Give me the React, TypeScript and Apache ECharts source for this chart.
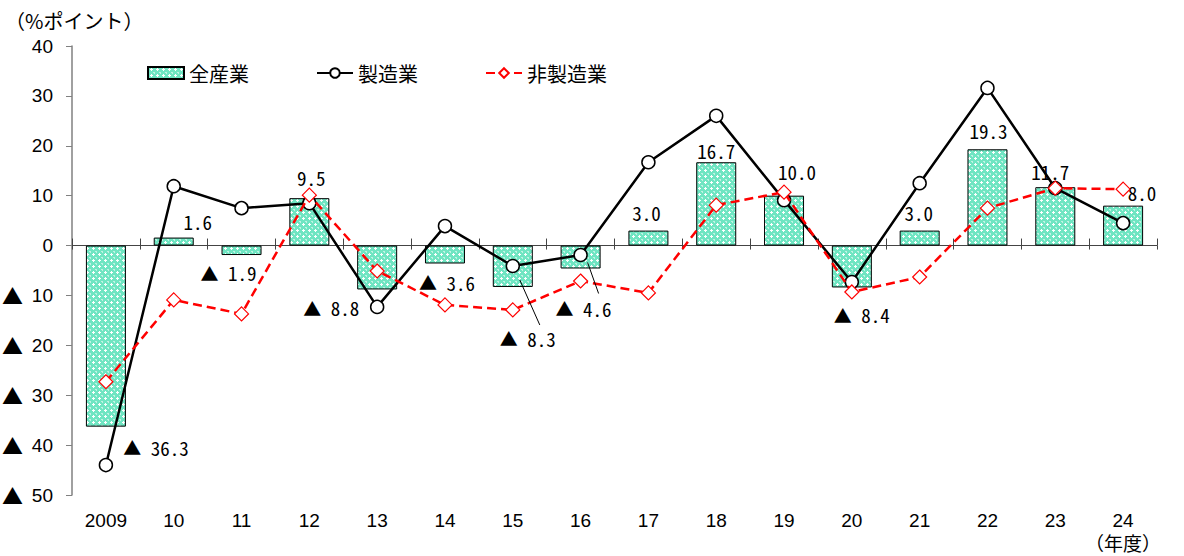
import React, { useEffect, useRef } from "react";
import * as echarts from "echarts";

// Fiscal years (2009 → 24) and the year-on-year changes (% points)
const categories = ["2009", "10", "11", "12", "13", "14", "15", "16", "17", "18", "19", "20", "21", "22", "23", "24"];
const allIndustry = [-36.3, 1.6, -1.9, 9.5, -8.8, -3.6, -8.3, -4.6, 3.0, 16.7, 10.0, -8.4, 3.0, 19.3, 11.7, 8.0];
const manufacturing = [-44.0, 11.9, 7.5, 8.5, -12.3, 3.9, -4.1, -1.9, 16.7, 26.0, 9.1, -7.3, 12.5, 31.6, 11.5, 4.5];
const nonManufacturing = [-27.3, -10.9, -13.7, 10.1, -5.1, -11.9, -12.9, -7.1, -9.5, 8.1, 10.7, -9.3, -6.3, 7.5, 11.5, 11.3];
const seriesNames = ["全産業", "製造業", "非製造業"];
const yTicks = { min: -50, max: 40, interval: 10 };

// Label nudges (px) from the default "outside" spot of each bar label
const labelOffsets: [number, number][] = [
  [50, 7], [24, -3], [-13, 4], [2, -7], [-46, 5], [2, 5], [15, 38], [3, 26],
  [-2, -5], [0, 2], [13, -11], [10, 14], [-1, -5], [1, -5], [-5, -2], [19, 0],
];
// Bars whose labels are pulled away and tied back with a thin leader line
const leaderIndices = [6, 7];
const leaderGeometry: Record<number, [number, number, number, number]> = {
  6: [7, -7, 27, 38],
  7: [7, -6, 18, 25],
};

const fmt = (v: number) => (v < 0 ? "{t|▲}{n| " + (-v).toFixed(1) + "}" : "{n|" + v.toFixed(1) + "}");

function makeHatch() {
  const c = document.createElement("canvas");
  c.width = 6;
  c.height = 6;
  const g = c.getContext("2d")!;
  g.fillStyle = "#6fe5c2";
  g.fillRect(0, 0, 6, 6);
  g.fillStyle = "#ffffff";
  g.fillRect(3, 1, 1, 3);
  g.fillRect(2, 2, 3, 1);
  g.fillStyle = "rgba(255,255,255,0.55)";
  g.fillRect(0, 5, 1, 1);
  g.fillRect(0, 0, 1, 1);
  g.fillRect(5, 5, 1, 1);
  return c;
}

export default function App() {
  const ref = useRef<HTMLDivElement>(null);

  useEffect(() => {
    if (!ref.current) return;
    const chart = echarts.init(ref.current, undefined, { renderer: "svg" });
    const hatch = { image: makeHatch(), repeat: "repeat" as const };
    const cjk = "'Noto Sans CJK JP', sans-serif";
    const labelFont = "'Noto Sans Mono CJK JP', 'DejaVu Sans Mono', monospace";
    const axisFont = "'Liberation Sans', Arial, sans-serif";

    const barData = allIndustry.map((v, i) => ({
      value: v,
      label: { offset: labelOffsets[i] },
    }));

    const yBase = {
      type: "value",
      min: yTicks.min,
      max: yTicks.max,
      interval: yTicks.interval,
      position: "left",
      splitLine: { show: false },
    };

    chart.setOption({
      animation: false,
      backgroundColor: "#ffffff",
      title: {
        text: "（%ポイント）",
        left: 0,
        top: 5,
        textStyle: { fontSize: 20, fontWeight: "normal", color: "#000", fontFamily: cjk },
      },
      legend: {
        left: 147,
        top: 63,
        padding: 0,
        itemGap: 67,
        itemWidth: 36,
        itemHeight: 12,
        textStyle: { fontSize: 20, color: "#000", fontFamily: cjk },
        data: [
          { name: seriesNames[0], icon: "rect" },
          { name: seriesNames[1] },
          { name: seriesNames[2] },
        ],
      },
      grid: { left: 72, right: 27, top: 46, bottom: 61, containLabel: false, outerBoundsMode: "none" },
      xAxis: [
        {
          type: "category",
          data: categories,
          boundaryGap: true,
          axisLine: { show: false, onZero: false },
          axisTick: { show: false },
          axisLabel: {
            interval: 0,
            margin: 14,
            fontSize: 19,
            color: "#000",
            fontFamily: axisFont,
            lineHeight: 22,
            overflow: "none",
            formatter: (v: string) => (v === categories[categories.length - 1] ? v + "\n{u|（年度）}" : v),
            rich: { u: { fontSize: 19, fontFamily: cjk, color: "#000", lineHeight: 22 } },
          },
        },
        {
          type: "category",
          data: categories,
          boundaryGap: true,
          axisLine: { show: true, onZero: true, onZeroAxisIndex: 0, lineStyle: { color: "#444", width: 1 } },
          axisTick: { show: true, interval: 0, length: 7, lineStyle: { color: "#444" } },
          axisLabel: { show: false },
        },
        {
          type: "category",
          data: categories,
          boundaryGap: true,
          axisLine: { show: false, onZero: true, onZeroAxisIndex: 0 },
          axisTick: { show: true, interval: 0, inside: true, length: 4, lineStyle: { color: "#444" } },
          axisLabel: { show: false },
        },
      ],
      yAxis: [
        {
          ...yBase,
          axisLine: { show: true, onZero: false, lineStyle: { color: "#808080", width: 1.5 } },
          axisTick: { show: true, length: 6, lineStyle: { color: "#808080" } },
          axisLabel: {
            margin: 19,
            fontSize: 19,
            color: "#000",
            fontFamily: axisFont,
            formatter: (v: number) => String(Math.abs(v)),
          },
        },
        {
          // Negative ticks carry a ▲ mark in front of the figure
          ...yBase,
          offset: 0,
          axisLine: { show: false, onZero: false },
          axisTick: { show: false },
          axisLabel: {
            margin: 49,
            fontSize: 21,
            color: "#000",
            fontFamily: cjk,
            formatter: (v: number) => (v < 0 ? "▲" : ""),
          },
        },
      ],
      series: [
        {
          name: seriesNames[0],
          type: "bar",
          xAxisIndex: 0,
          yAxisIndex: 0,
          barWidth: 40,
          data: barData,
          itemStyle: { color: hatch, borderColor: "#000", borderWidth: 1 },
          label: {
            show: true,
            position: "outside",
            distance: 4,
            color: "#000",
            formatter: (p: any) => fmt(p.value),
            rich: {
              t: { fontSize: 18, fontFamily: cjk, color: "#000" },
              n: { fontSize: 19, fontFamily: labelFont, color: "#000" },
            },
          },
          z: 2,
        },
        {
          name: seriesNames[1],
          type: "line",
          xAxisIndex: 0,
          yAxisIndex: 0,
          data: manufacturing,
          symbol: "circle",
          symbolSize: 13,
          lineStyle: { color: "#000", width: 2.5 },
          itemStyle: { color: "#fff", borderColor: "#000", borderWidth: 1.5 },
          z: 3,
        },
        {
          name: seriesNames[2],
          type: "line",
          xAxisIndex: 0,
          yAxisIndex: 0,
          data: nonManufacturing,
          symbol: "diamond",
          symbolSize: 14,
          lineStyle: { color: "#ff0000", width: 2.5, type: [9, 5] },
          itemStyle: { color: "#fff", borderColor: "#ff0000", borderWidth: 1.2 },
          z: 4,
        },
        {
          type: "custom",
          xAxisIndex: 0,
          yAxisIndex: 0,
          silent: true,
          z: 5,
          data: leaderIndices.map((i) => [i, allIndustry[i]]),
          renderItem: (params: any, api: any) => {
            const idx = api.value(0);
            const p = api.coord([idx, api.value(1)]);
            const g = leaderGeometry[idx];
            return {
              type: "line",
              shape: { x1: p[0] + g[0], y1: p[1] + g[1], x2: p[0] + g[2], y2: p[1] + g[3] },
              style: { stroke: "#000", lineWidth: 1 },
            };
          },
        },
      ],
    });

    return () => chart.dispose();
  }, []);

  return (
    <div
      ref={ref}
      style={{ position: "fixed", left: 0, top: 0, width: 1184, height: 556, background: "#fff" }}
    />
  );
}
